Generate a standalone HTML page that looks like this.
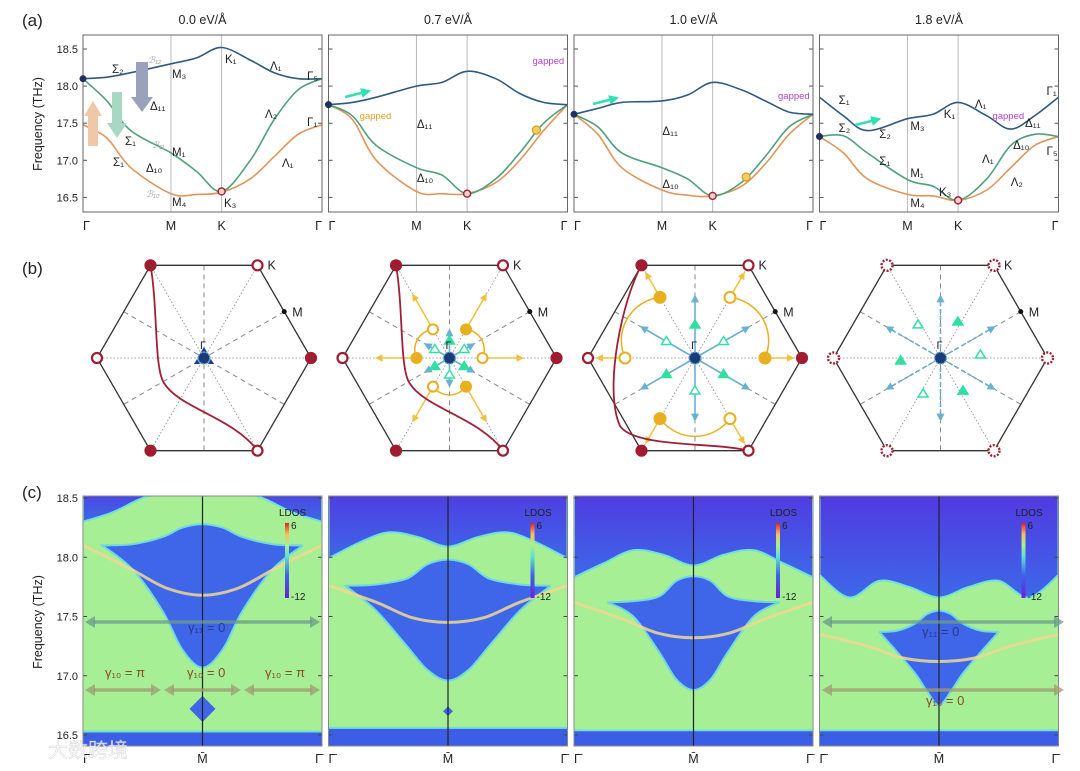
<!DOCTYPE html>
<html><head><meta charset="utf-8"><style>
body{margin:0;background:#fff;}
svg{display:block;font-family:"Liberation Sans","Noto Sans CJK SC",sans-serif;}
</style></head><body>
<svg id="fig" width="1080" height="771" viewBox="0 0 1080 771" xmlns="http://www.w3.org/2000/svg">
<defs>
<linearGradient id="cbar" x1="0" y1="1" x2="0" y2="0">
<stop offset="0" stop-color="#6a1fd8"/><stop offset="0.3" stop-color="#3d63e8"/><stop offset="0.55" stop-color="#5fe0d0"/><stop offset="0.7" stop-color="#a8f090"/><stop offset="0.85" stop-color="#f5c060"/><stop offset="1" stop-color="#e02020"/>
</linearGradient>
<linearGradient id="topblue" x1="0" y1="0" x2="0" y2="1">
<stop offset="0" stop-color="#5530e0"/><stop offset="1" stop-color="#3d68e8"/>
</linearGradient>
<marker id="ahy" viewBox="0 0 10 10" refX="8" refY="5" markerWidth="5" markerHeight="5" orient="auto"><path d="M0,0 L10,5 L0,10 z" fill="#f0c040"/></marker>
<marker id="ahb" viewBox="0 0 10 10" refX="8" refY="5" markerWidth="5" markerHeight="5" orient="auto"><path d="M0,0 L10,5 L0,10 z" fill="#6ab0d0"/></marker>
<marker id="aht" viewBox="0 0 10 10" refX="8" refY="5" markerWidth="4" markerHeight="4" orient="auto"><path d="M0,0 L10,5 L0,10 z" fill="#30e0b0"/></marker>
</defs>
<g id="layer"></g>
</svg>
<script>
// ---------- Panel (a) data ----------
const panelTitles = ["0.0 eV/Å","0.7 eV/Å","1.0 eV/Å","1.8 eV/Å"];
const kPath = [0,0.1,0.2,0.368,0.475,0.58,0.7,0.8,0.9,1];
const bandBlue = [
 [18.1,18.12,18.18,18.3,18.38,18.52,18.35,18.18,18.1,18.1],
 [17.75,17.78,17.85,18.0,18.05,18.2,18.1,17.9,17.78,17.75],
 [17.62,17.7,17.78,17.8,17.88,18.05,17.95,17.8,17.65,17.62],
 [17.85,17.6,17.4,17.56,17.62,17.78,17.6,17.42,17.6,17.85]];
const bandGreen = [
 [18.1,17.8,17.4,17.1,16.85,16.58,17.0,17.55,17.95,18.1],
 [17.75,17.6,17.2,16.9,16.8,16.55,16.75,17.1,17.5,17.75],
 [17.62,17.45,17.1,16.9,16.75,16.52,16.7,17.05,17.45,17.62],
 [17.32,17.33,17.1,16.74,16.65,16.46,16.75,17.2,17.35,17.32]];
const bandOrange = [
 [17.48,17.3,16.9,16.55,16.54,16.57,16.75,17.05,17.35,17.48],
 [17.75,17.55,17.0,16.58,16.55,16.55,16.7,17.0,17.4,17.75],
 [17.62,17.35,16.9,16.6,16.53,16.52,16.65,16.95,17.35,17.62],
 [17.32,17.1,16.75,16.54,16.52,16.46,16.6,16.9,17.2,17.32]];
const yTicksA = [16.5,17.0,17.5,18.0,18.5];
const kTickLabels = ["Γ","M","K","Γ"];
const kTickPos = [0,0.368,0.58,1];
// ---------- Panel (c) data ----------
const kHeat = [0,0.125,0.25,0.375,0.5,0.625,0.75,0.875,1];
const topEdge = [
 [18.3,18.38,18.5,18.56,18.56,18.56,18.5,18.38,18.3],
 [17.99,18.12,18.21,18.17,18.09,18.17,18.21,18.12,17.99],
 [17.83,17.95,18.06,18.02,17.93,18.02,18.06,17.95,17.83],
 [17.85,17.66,17.8,17.75,17.66,17.75,17.8,17.66,17.85]];
const kGap = [0,0.15,0.3,0.4,0.5,0.6,0.7,0.85,1];
const gapUpper = [
 [18.1,18.11,18.17,18.25,18.28,18.25,18.17,18.11,18.1],
 [17.76,17.77,17.82,17.94,17.98,17.94,17.82,17.77,17.76],
 [17.62,17.63,17.67,17.8,17.84,17.8,17.67,17.63,17.62],
 [17.37,17.38,17.44,17.52,17.55,17.52,17.44,17.38,17.37]];
const gapLower = [
 [18.1,17.9,17.55,17.22,17.07,17.22,17.55,17.9,18.1],
 [17.76,17.55,17.25,17.05,16.96,17.05,17.25,17.55,17.76],
 [17.62,17.5,17.2,16.97,16.88,16.97,17.2,17.5,17.62],
 [17.37,17.2,17.02,16.87,16.75,16.87,17.02,17.2,17.37]];
const gapKmin = [0.08,0.07,0.14,0.25];
const bottomEdge = [16.53,16.56,16.54,16.54];
const kSurf = [0,0.2,0.35,0.5,0.65,0.8,1];
const surfaceState = [
 [18.1,17.9,17.74,17.68,17.74,17.9,18.1],
 [17.76,17.62,17.49,17.45,17.49,17.62,17.76],
 [17.62,17.48,17.36,17.32,17.36,17.48,17.62],
 [17.35,17.25,17.15,17.12,17.15,17.25,17.35]];
const yTicksC = [16.5,17.0,17.5,18.0,18.5];

const NS="http://www.w3.org/2000/svg";
const L=document.getElementById('layer');
function mk(tag,attrs,parent){const e=document.createElementNS(NS,tag);for(const k in attrs)e.setAttribute(k,attrs[k]);(parent||L).appendChild(e);return e;}
function txt(x,y,s,size,opts,parent){const e=mk('text',Object.assign({x:x,y:y,'font-size':size,fill:'#222'},opts||{}),parent);e.textContent=s;return e;}
function segs(pts){let d='';for(let i=0;i<pts.length-1;i++){const p0=pts[Math.max(i-1,0)],p1=pts[i],p2=pts[i+1],p3=pts[Math.min(i+2,pts.length-1)];const c1=[p1[0]+(p2[0]-p0[0])/6,p1[1]+(p2[1]-p0[1])/6],c2=[p2[0]-(p3[0]-p1[0])/6,p2[1]-(p3[1]-p1[1])/6];d+=' C'+c1[0].toFixed(1)+','+c1[1].toFixed(1)+' '+c2[0].toFixed(1)+','+c2[1].toFixed(1)+' '+p2[0].toFixed(1)+','+p2[1].toFixed(1);}return d;}
function smooth(pts){return 'M'+pts[0][0]+','+pts[0][1]+segs(pts);}
const W=239, X0=i=>83+i*245.5;
const xA=(i,t)=>X0(i)+t*W, yA=f=>49+(18.5-f)*74.2;
const yC=f=>498+(18.5-f)*118.5;

let e;
e=txt(22,26,"(a)",17);
e=txt(22,274,"(b)",17);
e=txt(22,498,"(c)",17);

// ---------- Panel (a) ----------
for(let i=0;i<4;i++){
 const g=mk('g',{});
 
 
 const t=txt(X0(i)+W/2,24,panelTitles[i],12.5,{'text-anchor':'middle'},g);
 
 for(const kp of [kTickPos[1],kTickPos[2]]) mk('line',{x1:xA(i,kp),x2:xA(i,kp),y1:35,y2:212,stroke:'#bbb','stroke-width':1},g);
 yTicksA.forEach(f=>{mk('line',{x1:X0(i),x2:X0(i)+4,y1:yA(f),y2:yA(f),stroke:'#555'},g);mk('line',{x1:X0(i)+W-4,x2:X0(i)+W,y1:yA(f),y2:yA(f),stroke:'#555'},g);});
 const bands=[[bandOrange[i],'#e0955a'],[bandGreen[i],'#4fa07a'],[bandBlue[i],'#2f5a80']];
 bands.forEach(([b,c],j)=>{const p=mk('path',{d:smooth(kPath.map((k,n)=>[xA(i,k),yA(b[n])])),fill:'none',stroke:c,'stroke-width':1.6},g);});
 mk('rect',{x:X0(i),y:35,width:W,height:177,fill:'none',stroke:'#666','stroke-width':1},g);
 kTickLabels.forEach((s,n)=>{txt(xA(i,kTickPos[n]),230,s,12.5,{'text-anchor':n==3?'end':(n==0?'start':'middle')},g);});
 mk('circle',{cx:xA(i,0.58),cy:yA(bandGreen[i][5]),r:3.5,fill:'#f3d0d0',stroke:'#a02030','stroke-width':1.4},g);
 mk('circle',{cx:X0(i),cy:yA(Math.min(bandBlue[i][0],bandGreen[i][0])),r:3,fill:'#203060',stroke:'#203060'},g);
}
yTicksA.forEach(f=>{txt(78,yA(f)+4,f.toFixed(1),11,{'text-anchor':'end'});});
e=txt(0,0,"Frequency (THz)",12.5,{'text-anchor':'middle',transform:'translate(42,124) rotate(-90)'});

[["Σ₂",112,73],["M₃",172,78],["K₁",225,63],["Λ₁",270,70],["Γ₅",307,80],["Δ₁₁",150,110],["Λ₂",265,118],["Γ₁",307,126],["Σ₁",125,145],["M₁",172,156],["Σ₁",113,166],["Δ₁₀",146,172],["Λ₁",282,167],["M₄",172,206],["K₃",224,207]].forEach(a=>txt(a[1],a[2],a[0],11.5));
[["ℬ₁₂",148,63],["ℬ₁₁",152,148],["ℬ₁₀",146,197]].forEach(a=>txt(a[1],a[2],a[0],9,{fill:'#aaa','font-style':'italic'}));
mk('path',{d:'M88,146 L88,116 L84,116 L93,101 L102,116 L98,116 L98,146 Z',fill:'#f0c8a8'});
mk('path',{d:'M112,92 L112,123 L107,123 L117,138 L127,123 L122,123 L122,92 Z',fill:'#a8d8c4'});
mk('path',{d:'M136,62 L136,97 L131,97 L142,112 L153,97 L148,97 L148,62 Z',fill:'#9aa2bb'});
[[1,"Δ₁₁",0.37,128],[1,"Δ₁₀",0.37,182],[2,"Δ₁₁",0.37,135],[2,"Δ₁₀",0.37,188],[3,"Σ₁",0.08,104],[3,"Σ₂",0.08,132],[3,"Σ₂",0.25,138],[3,"M₃",0.38,130],[3,"K₁",0.52,118],[3,"Λ₁",0.65,108],[3,"Σ₁",0.25,165],[3,"M₁",0.38,177],[3,"M₄",0.38,207],[3,"K₃",0.5,196],[3,"Λ₁",0.68,163],[3,"Λ₂",0.8,186],[3,"Δ₁₁",0.86,127],[3,"Δ₁₀",0.81,149],[3,"Γ₁",0.95,95],[3,"Γ₅",0.95,155]].forEach(a=>txt(xA(a[0],a[2]),a[3],a[1],11.5));
[[1,0.92,64],[2,0.92,99],[3,0.79,119]].forEach(a=>txt(xA(a[0],a[1]),a[2],"gapped",9.5,{fill:'#b040d0','text-anchor':'middle'}));
txt(xA(1,0.13),119,"gapped",9.5,{fill:'#e0a020'});
[[1,0.12,95],[2,0.13,102],[3,0.2,123]].forEach(a=>mk('path',{d:'M'+(xA(a[0],a[1])-12)+','+(a[2]+2)+' L'+(xA(a[0],a[1])+12)+','+(a[2]-4),stroke:'#30e0b0','stroke-width':2.5,fill:'none','marker-end':'url(#aht)'}));
[[1,0.87,130],[2,0.72,177]].forEach(a=>{mk('circle',{cx:xA(a[0],a[1]),cy:a[2],r:4,fill:'#f0d060',stroke:'#d0a020','stroke-width':1.2});});

// ---------- Panel (b) ----------
const hexCy=358,R=107;
for(let i=0;i<4;i++){
 const cx=X0(i)+W/2+1.5;
 const g=mk('g',{});
 
 
 const V=[];for(let a=0;a<6;a++){const th=a*Math.PI/3;V.push([cx+R*Math.cos(th),hexCy-R*Math.sin(th)]);}
 for(let a=0;a<3;a++){mk('line',{x1:V[a][0],y1:V[a][1],x2:V[a+3][0],y2:V[a+3][1],stroke:'#888','stroke-dasharray':'1.5,2','stroke-width':0.8},g);
  const m1=[(V[a][0]+V[a+1][0])/2,(V[a][1]+V[a+1][1])/2],m2=[(V[a+3][0]+V[(a+4)%6][0])/2,(V[a+3][1]+V[(a+4)%6][1])/2];
  mk('line',{x1:m1[0],y1:m1[1],x2:m2[0],y2:m2[1],stroke:'#888','stroke-dasharray':'5,4','stroke-width':1},g);}
 mk('polygon',{points:V.map(p=>p.join(',')).join(' '),fill:'none',stroke:'#333','stroke-width':1.3},g);
 if(i==1||i==2){const rr=i==1?33:70;
  [[0,60],[120,180],[240,300]].forEach(([a1,a2])=>{
   const p1=[cx+rr*Math.cos(a1*Math.PI/180),hexCy-rr*Math.sin(a1*Math.PI/180)],p2=[cx+rr*Math.cos(a2*Math.PI/180),hexCy-rr*Math.sin(a2*Math.PI/180)];
   mk('path',{d:`M${p1[0].toFixed(1)},${p1[1].toFixed(1)} A${rr*0.62},${rr*0.62} 0 0 0 ${p2[0].toFixed(1)},${p2[1].toFixed(1)}`,fill:'none',stroke:'#e8b020','stroke-width':1.5},g);});
  for(let a=0;a<6;a++){const th=a*60*Math.PI/180;const c=Math.cos(th),s=Math.sin(th);
   mk('line',{x1:cx+rr*c,y1:hexCy-rr*s,x2:cx+(rr+(i==1?40:28))*c,y2:hexCy-(rr+(i==1?40:28))*s,stroke:'#f0c040','stroke-width':1.5,'marker-end':'url(#ahy)'},g);}
  for(let a=0;a<6;a++){const th=(a*60+30)*Math.PI/180;const len=i==1?28:62;
   mk('line',{x1:cx,y1:hexCy,x2:cx+len*Math.cos(th),y2:hexCy-len*Math.sin(th),stroke:'#6ab0d0','stroke-width':1.6,'marker-end':'url(#ahb)'},g);}
  for(let a=0;a<6;a++){const th=a*60*Math.PI/180;const filled=[false,true,false,true,false,true][a]^(i==2);
   mk('circle',{cx:cx+rr*Math.cos(th),cy:hexCy-rr*Math.sin(th),r:i==1?5:5.5,fill:filled?'#e8b020':'#fff',stroke:'#e8b020','stroke-width':2},g);}
  const tr=i==1?17:33;
  for(let a=0;a<6;a++){const th=(a*60+30)*Math.PI/180;mk('path',{d:`M${cx+tr*Math.cos(th)},${hexCy-tr*Math.sin(th)-5} l-5,8 l10,0 z`,fill:a%2?'#30e0a0':'#fff',stroke:'#30e0a0','stroke-width':1.4},g);}
 }
 if(i<3){
  const d=i==2?`M${V[2][0]},${V[2][1]} C${cx-72},${hexCy-60} ${cx-92},${hexCy+30} ${cx-75},${hexCy+68} C${cx-60},${hexCy+90} ${cx+20},${hexCy+84} ${V[5][0]},${V[5][1]}`:`M${V[2][0]},${V[2][1]} C${cx-46},${hexCy-50} ${cx-50},${hexCy+10} ${cx-40},${hexCy+25} C${cx-25},${hexCy+50} ${cx+30},${hexCy+60} ${V[5][0]},${V[5][1]}`;
  mk('path',{d:d,fill:'none',stroke:'#a02038','stroke-width':1.8},g);}
 if(i==3){for(let a=0;a<6;a++){const th=(a*60+30)*Math.PI/180;mk('line',{x1:cx+10*Math.cos(th),y1:hexCy-10*Math.sin(th),x2:cx+62*Math.cos(th),y2:hexCy-62*Math.sin(th),stroke:'#6ab0d0','stroke-width':1.6,'stroke-dasharray':'4,3','marker-end':'url(#ahb)'},g);
  mk('path',{d:`M${cx+40*Math.cos(th-0.45)},${hexCy-40*Math.sin(th-0.45)-5} l-5,8 l10,0 z`,fill:a%2?'#30e0a0':'#fff',stroke:'#30e0a0','stroke-width':1.5},g);}}
 if(i==0){for(let a=0;a<3;a++){const th=(a*120+90)*Math.PI/180;mk('path',{d:`M${cx+8*Math.cos(th)},${hexCy-8*Math.sin(th)-3} l-3,5 l6,0 z`,fill:'#1a3a9a'},g);}}
 V.forEach((p,a)=>{
  if(i==3) mk('circle',{cx:p[0],cy:p[1],r:5.5,fill:'#fff',stroke:'#a02030','stroke-width':2.4,'stroke-dasharray':'2,1.5'},g);
  else mk('circle',{cx:p[0],cy:p[1],r:5,fill:[true,false,true,false,true,false][a]?'#a01c30':'#fff',stroke:'#a01c30','stroke-width':2.2},g);});
 mk('circle',{cx:cx,cy:hexCy,r:6,fill:'#1a3a7a',stroke:'#6ab0d0','stroke-width':1.5,'stroke-dasharray':'2,1'},g);
 const mx=(V[0][0]+V[1][0])/2,my=(V[0][1]+V[1][1])/2;
 mk('circle',{cx:mx,cy:my,r:2.5,fill:'#111'},g);
 txt(mx+8,my+5,"M",12.5,{},g);txt(V[1][0]+10,V[1][1]+4,"K",12.5,{},g);txt(cx-4,hexCy-9,"Γ",11,{},g);
}

// ---------- Panel (c) ----------
for(let i=0;i<4;i++){
 const g=mk('g',{});
 
 
 const x0=X0(i),xc=t=>x0+t*W;
 const top=496,bot=746;
 const cl=mk('clipPath',{id:'clip'+i},g);mk('rect',{x:x0,y:top,width:W,height:bot-top},cl);
 const gg=mk('g',{'clip-path':'url(#clip'+i+')'},g);
 mk('rect',{x:x0,y:top,width:W,height:bot-top,fill:'#a6ef94'},gg);
 let pts=kHeat.map((k,n)=>[xc(k),yC(topEdge[i][n])]);
 mk('path',{d:smooth(pts)+` L${x0+W},${top-20} L${x0},${top-20} Z`,fill:'url(#topblue)',stroke:'#70e0d8','stroke-width':2},gg);
 const gx=k=>xc(gapKmin[i]+k*(1-2*gapKmin[i]));
 const up=kGap.map((k,n)=>[gx(k),yC(gapUpper[i][n])]);
 const lo=kGap.map((k,n)=>[gx(k),yC(gapLower[i][n])]).reverse();
 mk('path',{d:smooth(up)+' L'+lo[0][0]+','+lo[0][1]+segs(lo)+' Z',fill:'#3f66e8',stroke:'#70d8e0','stroke-width':2},gg);
 const sp=mk('path',{d:smooth(kSurf.map((k,n)=>[xc(k),yC(surfaceState[i][n])])),fill:'none',stroke:'#f0d890','stroke-width':3,opacity:0.85},gg);
 
 mk('rect',{x:x0,y:yC(bottomEdge[i]),width:W,height:bot-yC(bottomEdge[i]),fill:'#3c5ee6'},gg);
 mk('line',{x1:x0,x2:x0+W,y1:yC(bottomEdge[i]),y2:yC(bottomEdge[i]),stroke:'#70e0d0','stroke-width':2},gg);
 if(i==0) mk('polygon',{points:`${xc(0.5)},${yC(16.83)} ${xc(0.5)+13},${yC(16.72)} ${xc(0.5)},${yC(16.61)} ${xc(0.5)-13},${yC(16.72)}`,fill:'#3f66e8'},gg);
 if(i==1) mk('polygon',{points:`${xc(0.5)},${yC(16.74)} ${xc(0.5)+5},${yC(16.7)} ${xc(0.5)},${yC(16.66)} ${xc(0.5)-5},${yC(16.7)}`,fill:'#3f66e8'},gg);
 mk('line',{x1:xc(0.5),x2:xc(0.5),y1:top,y2:bot,stroke:'#222','stroke-width':1.2},g);
 yTicksC.forEach(f=>{mk('line',{x1:x0,x2:x0+4,y1:yC(f),y2:yC(f),stroke:'#444'},g);mk('line',{x1:x0+W-4,x2:x0+W,y1:yC(f),y2:yC(f),stroke:'#444'},g);});
 mk('rect',{x:x0,y:top,width:W,height:bot-top,fill:'none',stroke:'#888','stroke-width':1},g);
 const cb=mk('rect',{x:x0+202,y:523,width:4,height:75,fill:'url(#cbar)'},g);
 
 txt(x0+196,516,"LDOS",10,{},g);txt(x0+208,529,"6",10,{},g);txt(x0+208,600,"-12",10,{},g);
 txt(x0,763,"Γ̄",12.5,{},g);txt(xc(0.5),763,"M̄",12.5,{'text-anchor':'middle'},g);txt(x0+W,763,"Γ̄",12.5,{'text-anchor':'end'},g);
}
yTicksC.forEach(f=>txt(78,yC(f)+4,f.toFixed(1),11,{'text-anchor':'end'}));
e=txt(0,0,"Frequency (THz)",12.5,{'text-anchor':'middle',transform:'translate(42,622) rotate(-90)'});

function harrow(x1,x2,y,c){mk('path',{d:`M${x1+8},${y} L${x2-8},${y}`,stroke:c,'stroke-width':3.5,opacity:0.75});mk('path',{d:`M${x1},${y} l10,-6 l0,12 z M${x2},${y} l-10,-6 l0,12 z`,fill:c,opacity:0.75});}
harrow(85,320,622,'#6a9a8a');harrow(85,161,690,'#a09a70');harrow(164,241,690,'#a09a70');harrow(244,320,690,'#a09a70');
harrow(822,1064,622,'#6a9a8a');harrow(822,1064,690,'#a09a70');
txt(188,632,"γ₁₁ = 0",13,{fill:'#2a3a8a'});txt(105,677,"γ₁₀ = π",13,{fill:'#8a4a2a'});txt(187,677,"γ₁₀ = 0",13,{fill:'#8a4a2a'});txt(265,677,"γ₁₀ = π",13,{fill:'#8a4a2a'});
txt(922,636,"γ₁₁ = 0",13,{fill:'#2a3a8a'});txt(926,705,"γ₁₀ = 0",13,{fill:'#8a4a2a'});
e=txt(48,757,"大数跨境",20,{fill:'#fff',opacity:0.8,stroke:'#ccc','stroke-width':0.5});

</script>
</body></html>
